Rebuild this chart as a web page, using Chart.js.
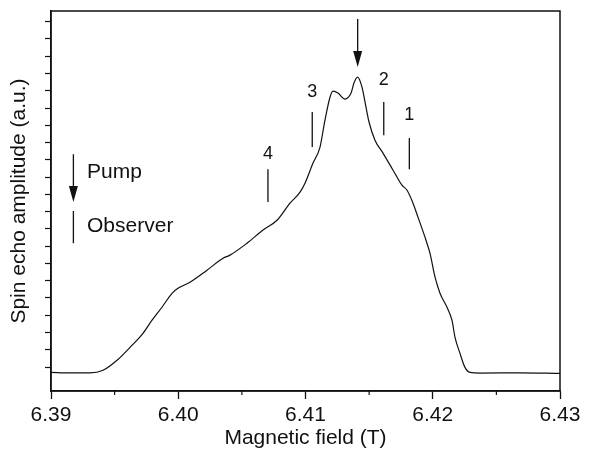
<!DOCTYPE html>
<html>
<head>
<meta charset="utf-8">
<title>Spin echo amplitude vs magnetic field</title>
<script src="https://cdn.jsdelivr.net/npm/chart.js@4.4.1/dist/chart.umd.min.js"></script>
<style>
  html, body { margin: 0; padding: 0; background: #fff; }
  #wrap { width: 590px; height: 452px; }
</style>
</head>
<body>
<div id="wrap"><canvas id="echoChart" width="590" height="452"></canvas></div>
<script>
/* --- DATA --- */
// field-swept spin echo trace
const fieldT = [
    6.39000, 6.39149, 6.39306, 6.39409, 6.39519, 6.39621, 6.39723, 6.39794,
    6.39872, 6.39951, 6.39998, 6.40092, 6.40226, 6.40352, 6.40407, 6.40540,
    6.40666, 6.40776, 6.40878, 6.40957, 6.40996, 6.41059, 6.41114, 6.41153,
    6.41193, 6.41216, 6.41255, 6.41310, 6.41358, 6.41381, 6.41409, 6.41444,
    6.41475, 6.41499, 6.41546, 6.41609, 6.41688, 6.41758, 6.41798, 6.41845,
    6.41884, 6.41939, 6.41978, 6.42018, 6.42057, 6.42112, 6.42151, 6.42175,
    6.42214, 6.42253, 6.42293, 6.42371, 6.42686, 6.43000
];
const echoAmp = [
    -0.31, -0.34, -0.34, -0.19, 0.39, 1.14, 1.95, 2.71,
    3.46, 4.27, 4.56, 4.91, 5.61, 6.30, 6.48, 7.17,
    7.93, 8.50, 9.49, 10.13, 10.65, 11.81, 12.74, 14.30,
    15.64, 15.98, 15.87, 15.52, 15.87, 16.45, 16.79, 16.21,
    15.06, 14.19, 13.14, 12.39, 11.40, 10.53, 10.24, 9.49,
    8.68, 7.52, 6.59, 5.20, 4.27, 3.46, 2.71, 1.72,
    0.79, -0.02, -0.31, -0.35, -0.34, -0.37
];

const xTicks = [6.39, 6.40, 6.41, 6.42, 6.43];
const xMinorTicks = [6.395, 6.405, 6.415, 6.425];
const yTicks = [0, 1, 2, 3, 4, 5, 6, 7, 8, 9, 10, 11, 12, 13, 14, 15, 16, 17, 18, 19, 20];

// observer positions 1..4
const markerNames = ['1', '2', '3', '4'];
const markerField = [6.41816, 6.41615, 6.41053, 6.40705];
const markerTop = [13.26, 15.35, 14.77, 11.46];
const markerBottom = [11.46, 13.43, 12.74, 9.55];
const markerLabelY = [14.62, 16.62, 15.95, 12.36];

// pump arrows (legend arrow + arrow over the main peak)
const arrowField = [6.39176, 6.41410];
const arrowTop = [12.33, 20.16];
const arrowTip = [9.55, 17.37];

// legend observer bar
const observerField = 6.39176;
const observerTop = 9.04;
const observerBottom = 7.17;

const legendLabels = ['Pump', 'Observer'];
const legendLabelX = [6.39283, 6.39283];
const legendLabelY = [11.29, 8.16];

/* --- BUILD --- */
const ink = '#111';
const face = "'Liberation Sans', Arial, sans-serif";
Chart.defaults.font.family = face;
Chart.defaults.color = ink;

const tracePoints = fieldT.map((f, i) => ({ x: f, y: echoAmp[i] }));

const markSegments = [];
markerField.forEach((f, i) => {
    markSegments.push({ x: f, y: markerTop[i] }, { x: f, y: markerBottom[i] }, { x: f, y: null });
});
arrowField.forEach((f, i) => {
    markSegments.push({ x: f, y: arrowTop[i] }, { x: f, y: arrowTip[i] + 0.3 }, { x: f, y: null });
});
markSegments.push({ x: observerField, y: observerTop }, { x: observerField, y: observerBottom });

const annotate = {
    id: 'annotate',
    afterDatasetsDraw(chart) {
        const { ctx, chartArea, scales: { x, y } } = chart;
        ctx.save();
        ctx.strokeStyle = ink;
        ctx.fillStyle = ink;

        // box round the plot
        ctx.lineWidth = 1.5;
        ctx.strokeRect(chartArea.left, chartArea.top, chartArea.width, chartArea.height);

        // short minor ticks on the field axis
        ctx.lineWidth = 1.2;
        xMinorTicks.forEach(v => {
            const px = x.getPixelForValue(v);
            ctx.beginPath();
            ctx.moveTo(px, chartArea.bottom);
            ctx.lineTo(px, chartArea.bottom + 4);
            ctx.stroke();
        });

        // arrow heads
        arrowField.forEach((f, i) => {
            const px = x.getPixelForValue(f);
            const py = y.getPixelForValue(arrowTip[i]);
            ctx.beginPath();
            ctx.moveTo(px, py);
            ctx.lineTo(px - 4.5, py - 16);
            ctx.lineTo(px + 4.5, py - 16);
            ctx.closePath();
            ctx.fill();
        });

        // numbers over the observer bars
        ctx.font = '18px ' + face;
        ctx.textAlign = 'center';
        ctx.textBaseline = 'middle';
        markerNames.forEach((name, i) => {
            ctx.fillText(name, x.getPixelForValue(markerField[i]), y.getPixelForValue(markerLabelY[i]));
        });

        // Pump / Observer key
        ctx.font = '21px ' + face;
        ctx.textAlign = 'left';
        legendLabels.forEach((txt, i) => {
            ctx.fillText(txt, x.getPixelForValue(legendLabelX[i]), y.getPixelForValue(legendLabelY[i]));
        });
        ctx.restore();
    }
};

new Chart(document.getElementById('echoChart'), {
    type: 'line',
    data: {
        datasets: [{
            label: 'Spin echo',
            data: tracePoints,
            borderColor: ink,
            borderWidth: 1.2,
            pointRadius: 0,
            cubicInterpolationMode: 'monotone'
        }, {
            label: 'Markers',
            data: markSegments,
            borderColor: ink,
            borderWidth: 1.3,
            pointRadius: 0,
            spanGaps: false
        }]
    },
    options: {
        responsive: false,
        animation: false,
        events: [],
        layout: { padding: { top: 11, right: 30, left: 0, bottom: 0 } },
        plugins: {
            legend: { display: false },
            tooltip: { enabled: false }
        },
        scales: {
            x: {
                type: 'linear',
                min: 6.39,
                max: 6.43,
                afterBuildTicks: s => { s.ticks = xTicks.map(v => ({ value: v })); },
                afterFit: s => { s.height = 61; },
                ticks: {
                    autoSkip: false,
                    maxRotation: 0,
                    padding: 4,
                    font: { size: 21 },
                    callback: v => v.toFixed(2)
                },
                grid: { drawOnChartArea: false, tickLength: 8, tickColor: ink, tickWidth: 1.3 },
                border: { color: ink, width: 1.5 },
                title: {
                    display: true,
                    text: 'Magnetic field (T)',
                    font: { size: 21 },
                    padding: { top: 0, bottom: 1 }
                }
            },
            y: {
                type: 'linear',
                min: -1.39,
                max: 20.62,
                afterBuildTicks: s => { s.ticks = yTicks.map(v => ({ value: v })); },
                afterFit: s => { s.width = 51; },
                ticks: { display: false },
                grid: { drawOnChartArea: false, tickLength: 6, tickColor: ink, tickWidth: 1.2 },
                border: { color: ink, width: 1.5 },
                title: {
                    display: true,
                    text: 'Spin echo amplitude (a.u.)',
                    font: { size: 21 },
                    padding: { top: 7, bottom: 0 }
                }
            }
        }
    },
    plugins: [annotate]
});
</script>
</body>
</html>
